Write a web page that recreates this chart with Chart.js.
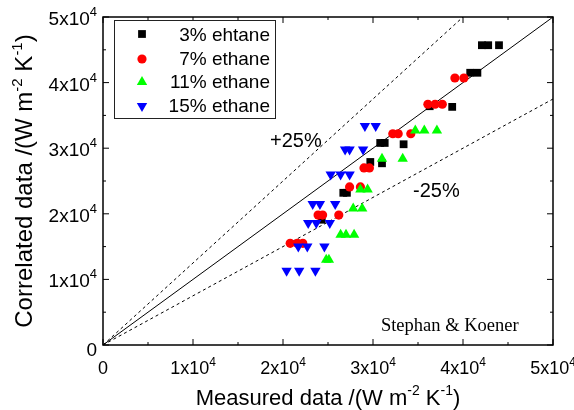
<!DOCTYPE html>
<html>
<head>
<meta charset="utf-8">
<script src="https://cdn.jsdelivr.net/npm/chart.js@4.4.1/dist/chart.umd.min.js"></script>
<style>
html,body{margin:0;padding:0;background:#fff;}
</style>
</head>
<body>
<canvas id="grafico_correlacion" width="574" height="410"></canvas>
<script>
// ticks del grafico (mismo rango en x e y)
var ticks_valores = [0, 10000, 20000, 30000, 40000, 50000];
var ticks_menores = [5000, 15000, 25000, 35000, 45000];
var ticks_base = ["0", "1x10", "2x10", "3x10", "4x10", "5x10"];
var ticks_exp = ["", "4", "4", "4", "4", "4"];

var etano3_x = [42100, 42800, 44000, 40800, 41600, 36300, 38800, 30800, 31300, 33400, 29700, 31000, 26700, 27100, 24300];
var etano3_y = [45700, 45700, 45700, 41500, 41500, 36400, 36300, 30800, 30800, 30600, 27900, 27700, 23200, 23200, 19100];
var etano7_x = [39100, 40100, 36100, 36900, 37700, 32200, 32800, 34200, 29000, 29600, 27400, 28600, 23900, 24400, 26200, 20800, 21600, 22200];
var etano7_y = [40700, 40700, 36700, 36700, 36700, 32200, 32200, 32200, 27000, 27000, 24100, 24100, 19800, 19800, 19800, 15500, 15500, 15500];
var etano11_x = [34700, 35700, 37100, 31000, 33300, 28600, 29400, 27800, 28800, 26400, 27000, 27900, 24800, 25100];
var etano11_y = [32700, 32700, 32700, 28400, 28400, 23700, 23700, 20800, 20800, 16800, 16800, 16800, 13000, 13000];
var etano15_x = [29100, 30300, 26900, 27400, 28900, 25300, 26400, 27400, 23300, 24100, 25800, 22800, 23700, 25200, 21700, 22700, 24600, 20400, 21800, 23600];
var etano15_y = [33400, 33400, 29800, 29800, 29800, 26000, 26000, 26000, 21500, 21500, 21500, 18600, 18600, 18600, 15000, 15000, 15000, 11300, 11300, 11300];

var series_nombres = ["3% ehtane", "7% ethane", "11% ethane", "15% ethane"];
var lineas_ratio = [1, 1.25, 0.75];
var eje_max = 50000;

var fuente = "'Liberation Sans', Arial, sans-serif";

function armar_puntos(xs, ys){
	var pts = [];
	for(var i = 0; i < xs.length; i++){
		pts.push({x: xs[i], y: ys[i]});
	}
	return pts;
}
function armar_linea(ratio){
	var x_fin = Math.min(eje_max, eje_max / ratio);
	return [{x: 0, y: 0}, {x: x_fin, y: x_fin * ratio}];
}

// texto con superindices: partes = [{t:"..", sup:true/false}]
function texto_sup(ctx, partes, x, y, align, size, sup_size, subida){
	var total = 0;
	partes.forEach(function(p){
		ctx.font = (p.sup ? sup_size : size) + "px " + fuente;
		p.w = ctx.measureText(p.t).width;
		total += p.w;
	});
	var x0 = x;
	if(align == "center") x0 = x - total / 2;
	if(align == "right") x0 = x - total;
	ctx.textAlign = "left";
	ctx.textBaseline = "alphabetic";
	partes.forEach(function(p){
		ctx.font = (p.sup ? sup_size : size) + "px " + fuente;
		ctx.fillText(p.t, x0, p.sup ? y - subida : y);
		x0 += p.w;
	});
}

var plugin_ejes = {
	id: "ejes_origin",
	afterDatasetsDraw: function(chart){
		var ctx = chart.ctx;
		var a = chart.chartArea;
		var sx = chart.scales.x;
		var sy = chart.scales.y;
		ctx.save();
		ctx.strokeStyle = "#000";
		ctx.fillStyle = "#000";

		// marco
		ctx.lineWidth = 1.5;
		ctx.strokeRect(a.left, a.top, a.right - a.left, a.bottom - a.top);

		// ticks hacia adentro en los 4 lados
		ctx.lineWidth = 1;
		function tick(v, largo){
			var px = sx.getPixelForValue(v);
			var py = sy.getPixelForValue(v);
			ctx.beginPath();
			ctx.moveTo(px, a.bottom); ctx.lineTo(px, a.bottom - largo);
			ctx.moveTo(px, a.top); ctx.lineTo(px, a.top + largo);
			ctx.moveTo(a.left, py); ctx.lineTo(a.left + largo, py);
			ctx.moveTo(a.right, py); ctx.lineTo(a.right - largo, py);
			ctx.stroke();
		}
		ticks_valores.forEach(function(v){ tick(v, 6); });
		ticks_menores.forEach(function(v){ tick(v, 3); });

		// etiquetas de ticks
		ticks_valores.forEach(function(v, i){
			var partes_x = [{t: ticks_base[i]}, {t: ticks_exp[i], sup: true}];
			texto_sup(ctx, partes_x, sx.getPixelForValue(v), a.bottom + 29, "center", 18, 12, 8);
			var partes_y = [{t: ticks_base[i]}, {t: ticks_exp[i], sup: true}];
			var extra = (i == 0) ? 3 : 0;
			texto_sup(ctx, partes_y, a.left - 6, sy.getPixelForValue(v) + 8 + extra, "right", 19, 13, 9);
		});

		// titulos de ejes
		texto_sup(ctx, [{t: "Measured data /(W m"}, {t: "-2", sup: true}, {t: " K"}, {t: "-1", sup: true}, {t: ")"}],
			(a.left + a.right) / 2, 405, "center", 22, 14, 10);
		ctx.save();
		ctx.translate(32, (a.top + a.bottom) / 2);
		ctx.rotate(-Math.PI / 2);
		texto_sup(ctx, [{t: "Correlated data /(W m"}, {t: "-2", sup: true}, {t: " K"}, {t: "-1", sup: true}, {t: ")"}],
			0, 0, "center", 24, 15, 10);
		ctx.restore();

		// textos de las lineas de +-25%
		ctx.font = "20px " + fuente;
		ctx.textAlign = "left";
		ctx.fillText("+25%", sx.getPixelForValue(18550), sy.getPixelForValue(30200));
		ctx.fillText("-25%", sx.getPixelForValue(34450), sy.getPixelForValue(22560));

		ctx.font = "18.5px 'Liberation Serif', 'Times New Roman', serif";
		ctx.fillText("Stephan & Koener", sx.getPixelForValue(30880), sy.getPixelForValue(2140));

		// leyenda
		ctx.fillStyle = "#fff";
		ctx.fillRect(114, 20, 161, 98);
		ctx.strokeStyle = "#222";
		ctx.lineWidth = 1;
		ctx.strokeRect(114.5, 20.5, 161, 98);
		var filas_y = [34, 59, 82, 106];
		var bases_y = [41, 65, 88, 112];
		for(var i = 0; i < 4; i++){
			var ds = chart.data.datasets[i + 3];
			ctx.fillStyle = ds.backgroundColor;
			ctx.strokeStyle = ds.backgroundColor;
			Chart.helpers.drawPoint(ctx, {
				pointStyle: ds.pointStyle,
				radius: ds.pointRadius,
				rotation: ds.rotation || 0,
				borderWidth: 0
			}, 142, filas_y[i]);
			ctx.fillStyle = "#000";
			ctx.font = "19px " + fuente;
			ctx.textAlign = "right";
			ctx.fillText(series_nombres[i], 270, bases_y[i]);
		}
		ctx.restore();
	}
};

function sec_grafico_correlacion(){
	var lineas = [
		{data: armar_linea(lineas_ratio[0]), borderDash: []},
		{data: armar_linea(lineas_ratio[1]), borderDash: [3, 3]},
		{data: armar_linea(lineas_ratio[2]), borderDash: [3, 3]}
	];
	var datasets = [];
	lineas.forEach(function(l){
		datasets.push({
			data: l.data,
			showLine: true,
			borderColor: "#000",
			borderWidth: 1,
			borderDash: l.borderDash,
			pointRadius: 0,
			order: 10
		});
	});
	datasets.push({label: series_nombres[0], data: armar_puntos(etano3_x, etano3_y), pointStyle: "rect", pointRadius: 5.5, backgroundColor: "#000000", order: 4});
	datasets.push({label: series_nombres[1], data: armar_puntos(etano7_x, etano7_y), pointStyle: "circle", pointRadius: 4.6, backgroundColor: "#ff0000", order: 3});
	datasets.push({label: series_nombres[2], data: armar_puntos(etano11_x, etano11_y), pointStyle: "triangle", pointRadius: 6, backgroundColor: "#00ff00", order: 2});
	datasets.push({label: series_nombres[3], data: armar_puntos(etano15_x, etano15_y), pointStyle: "triangle", rotation: 180, pointRadius: 6, backgroundColor: "#0000ff", order: 1});
	datasets.forEach(function(d){
		if(d.pointRadius > 0){
			d.borderWidth = 0;
			d.pointBorderWidth = 0;
			d.pointRotation = d.rotation || 0;
		}
	});

	new Chart(document.getElementById("grafico_correlacion"), {
		type: "scatter",
		data: {datasets: datasets},
		options: {
			responsive: false,
			animation: false,
			devicePixelRatio: 1,
			layout: {padding: {left: 103, top: 17, right: 21, bottom: 65}},
			plugins: {legend: {display: false}, tooltip: {enabled: false}},
			scales: {
				x: {type: "linear", min: 0, max: eje_max, display: false},
				y: {type: "linear", min: 0, max: eje_max, display: false}
			}
		},
		plugins: [plugin_ejes]
	});
}
sec_grafico_correlacion();
</script>
</body>
</html>
